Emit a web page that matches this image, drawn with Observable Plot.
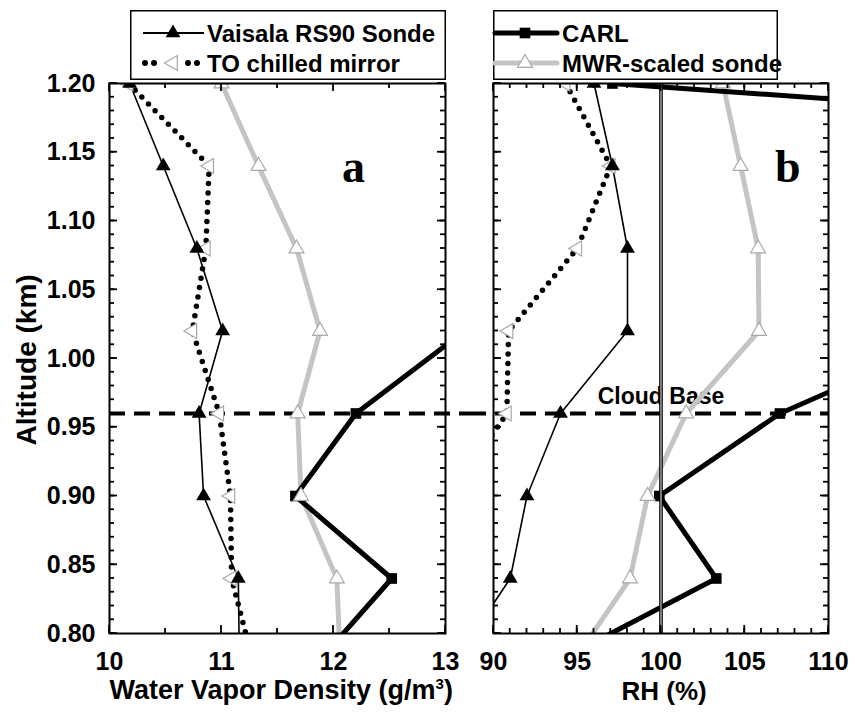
<!DOCTYPE html>
<html><head><meta charset="utf-8">
<script src="https://cdn.jsdelivr.net/npm/d3@7"></script>
<script src="https://cdn.jsdelivr.net/npm/@observablehq/plot@0.6"></script>
<style>
body{margin:0;background:#fff;}
#wrap{position:relative;width:855px;height:713px;font-family:"Liberation Sans",Arial,sans-serif;font-weight:bold;color:#000;overflow:hidden;}
#wrap svg{overflow:visible;}
.abs{position:absolute;white-space:nowrap;}
</style></head><body><div id="wrap"></div>
<script>
// ---- data ----
const altitude  = [1.20, 1.14, 1.08, 1.02, 0.96, 0.90, 0.84, 0.78];
// panel a: water vapor density (g/m3)
const vaisalaWV = [10.18, 10.48, 10.78, 11.01, 10.80, 10.84, 11.15, 11.16];
const toWV      = [10.17, 10.89, 10.86, 10.74, 10.98, 11.08, 11.09, 11.28];
const mwrWV     = [11.00, 11.33, 11.67, 11.88, 11.68, 11.71, 12.03, 12.06];
const carlWV    = [null, null, null, 13.17, 12.20, 11.66, 12.52, 11.87];
// panel b: relative humidity (%)
const vaisalaRH = [96.0, 97.1, 98.0, 98.0, 94.0, 92.0, 91.0, 87.7];
const toRH      = [94.3, 97.0, 95.0, 90.9, 90.8, 87.4, 86.0, 84.0];
const mwrRH     = [103.7, 104.75, 105.8, 105.85, 101.5, 99.2, 98.15, 94.8];
const carlRH    = [97.1, 167, 150, 118.3, 107.1, 99.9, 103.3, 93.85];
const cloudBase = 0.96;
const saturation = 100;
// ticks
const yMajor = [0.80, 0.85, 0.90, 0.95, 1.00, 1.05, 1.10, 1.15, 1.20];
const yMinor = d3.range(80, 121).map(d => d / 100);
const xMajorA = [10, 11, 12, 13];
const xMinorA = [10.5, 11.5, 12.5];
const xMajorB = [90, 95, 100, 105, 110];
const xMinorB = d3.range(90, 111);
const domainA = [10, 13], domainB = [90, 110], domainY = [0.80, 1.20];

const rows = vals => altitude.map((a, i) => ({alt: a, v: vals[i]})).filter(d => d.v != null);

const GRAY = "#c4c4c4";
const FONT = "Liberation Sans, Arial, sans-serif";
const H = 713, MT = 83, MB = 80;
const wrap = document.getElementById("wrap");

function place(svg, left) {
  svg.style.position = "absolute"; svg.style.left = left + "px"; svg.style.top = "0px";
  wrap.appendChild(svg);
  return svg;
}

function panel({left, width, ml, mr, domain, xMajor, xMinor, vaisala, to, mwr, carl, ylabels, extra, overlay, cbX1, cbX2}) {
  const marks = [];
  marks.push(Plot.ruleY([cloudBase], {x1: cbX1, x2: cbX2, stroke: "black", strokeWidth: 4, strokeDasharray: "16 9"}));
  if (extra) marks.push(...extra);
  marks.push(
    Plot.line(rows(to), {x: "v", y: "alt", stroke: "black", strokeWidth: 5.5, strokeDasharray: "0 9.5", strokeLinecap: "round", clip: true}),
    Plot.line(rows(vaisala), {x: "v", y: "alt", stroke: "black", strokeWidth: 1.6, clip: true}),
    Plot.line(rows(mwr), {x: "v", y: "alt", stroke: GRAY, strokeWidth: 5, clip: true}),
    Plot.line(rows(carl), {x: "v", y: "alt", stroke: "black", strokeWidth: 5, clip: true}),
    Plot.dot(rows(carl), {x: "v", y: "alt", symbol: "square", r: 6, fill: "black", clip: true}),
    Plot.dot(rows(mwr), {x: "v", y: "alt", symbol: "triangle", r: 5.5, fill: "white", stroke: "#a8a8a8", strokeWidth: 1.2, clip: true}),
    Plot.dot(rows(to), {x: "v", y: "alt", symbol: "triangle", rotate: -90, r: 5.5, fill: "white", stroke: "#a8a8a8", strokeWidth: 1.2, clip: true}),
    Plot.dot(rows(vaisala), {x: "v", y: "alt", symbol: "triangle", r: 5.5, fill: "black", clip: true})
  );
  marks.push(Plot.axisX(xMajor, {anchor: "bottom", tickSize: 0, tickPadding: 19, label: null, fontSize: 25}));
  if (ylabels) marks.push(Plot.axisY(yMajor, {anchor: "left", tickSize: 0, tickPadding: 14, label: null, fontSize: 25, tickFormat: d => d.toFixed(2)}));
  const base = {
    width, height: H, marginLeft: ml, marginRight: mr, marginTop: MT, marginBottom: MB,
    x: {domain, axis: null}, y: {domain: domainY, axis: null},
    style: {fontFamily: FONT, fontWeight: "bold", fontSize: "25px", color: "black", background: "transparent", overflow: "visible"}
  };
  place(Plot.plot({...base, marks}), left);
  const om = [...(overlay || [])];
  om.push(Plot.frame({stroke: "black", strokeWidth: 2}));
  const o = place(Plot.plot({...base, marks: om}), left);
  // inward ticks on all four sides, positioned through the plot's own scales
  const sx = o.scale("x"), sy = o.scale("y");
  const X0 = sx.apply(domain[0]), X1 = sx.apply(domain[1]);
  const Y0 = sy.apply(domainY[0]), Y1 = sy.apply(domainY[1]);
  const g = d3.select(o).append("g").attr("stroke", "#000").attr("stroke-width", 1.8);
  const seg = (x1, y1, x2, y2) => g.append("line").attr("x1", x1).attr("y1", y1).attr("x2", x2).attr("y2", y2);
  for (const [ticks, len] of [[xMajor, 8], [xMinor, 5]]) for (const t of ticks) {
    const px = sx.apply(t);
    seg(px, Y0, px, Y0 - len);
    seg(px, Y1, px, Y1 + len);
  }
  for (const [ticks, len] of [[yMajor, 8], [yMinor, 5]]) for (const t of ticks) {
    const py = sy.apply(t);
    seg(X0, py, X0 + len, py);
    seg(X1, py, X1 - len, py);
  }
}

// panel a: frame 109..445
const wA = 470, mlA = 109, mrA = 25;
panel({
  left: 0, width: wA, ml: mlA, mr: mrA, domain: domainA, xMajor: xMajorA, xMinor: xMinorA,
  vaisala: vaisalaWV, to: toWV, mwr: mwrWV, carl: carlWV, ylabels: true,
  cbX1: domainA[0], cbX2: domainA[1] + mrA * (domainA[1] - domainA[0]) / (wA - mlA - mrA)
});
// panel b: frame 493..828
const wB = 385, mlB = 23, mrB = 27;
panel({
  left: 470, width: wB, ml: mlB, mr: mrB, domain: domainB, xMajor: xMajorB, xMinor: xMinorB,
  vaisala: vaisalaRH, to: toRH, mwr: mwrRH, carl: carlRH, ylabels: false,
  cbX1: domainB[0] - mlB * (domainB[1] - domainB[0]) / (wB - mlB - mrB), cbX2: domainB[1],
  extra: [
    Plot.text(["Cloud Base"], {x: saturation, y: cloudBase, dy: -17, text: d => d, fontSize: 23, fontWeight: "bold", fill: "black"})
  ],
  overlay: [
    Plot.ruleX([saturation], {stroke: "black", strokeWidth: 3.6}),
    Plot.ruleX([saturation], {stroke: "#c8c8c8", strokeWidth: 1.2})
  ]
});

// axis titles
function addDiv(html, css) {
  const d = document.createElement("div");
  d.className = "abs"; d.innerHTML = html; Object.assign(d.style, css); wrap.appendChild(d); return d;
}
const tA = addDiv('Water Vapor Density (g/m<sup style="font-size:15px;vertical-align:10px;line-height:0">3</sup>)', {fontSize: "27px", top: "675px", left: "0px"});
tA.style.left = (281 - tA.offsetWidth / 2) + "px";
const tB = addDiv('RH (%)', {fontSize: "26px", top: "676px"});
tB.style.left = (664 - tB.offsetWidth / 2) + "px";
const tY = addDiv('Altitude (km)', {fontSize: "28px", left: "0px", top: "0px", transformOrigin: "0 0"});
const wY = tY.offsetWidth, hY = tY.offsetHeight;
tY.style.transform = `translate(${27 - hY / 2}px, ${360 + wY / 2}px) rotate(-90deg)`;
// panel letters
addDiv('a', {fontFamily: "Liberation Serif, Times New Roman, serif", fontSize: "46px", left: "342px", top: "140px"});
addDiv('b', {fontFamily: "Liberation Serif, Times New Roman, serif", fontSize: "46px", left: "775px", top: "140px"});

// legends
function legend(left, width, items) {
  const svg = d3.create("svg").attr("width", width).attr("height", 70)
    .style("position", "absolute").style("left", left + "px").style("top", "10px").style("overflow", "visible");
  svg.append("rect").attr("x", 0.75).attr("y", 0.75).attr("width", width - 1.5).attr("height", 68.5)
    .attr("fill", "white").attr("stroke", "black").attr("stroke-width", 1.5);
  items.forEach((it, i) => {
    const y = 23 + i * 30;
    const g = svg.append("g");
    it.draw(g, y);
    g.append("text").attr("x", it.tx).attr("y", y + 8.5).text(it.label)
      .attr("font-family", FONT).attr("font-weight", "bold").attr("font-size", 24).attr("fill", "black");
  });
  wrap.appendChild(svg.node());
}
const tri = d3.symbol(d3.symbolTriangle, Math.PI * 5.5 * 5.5)();
const sq = d3.symbol(d3.symbolSquare, Math.PI * 6 * 6)();
legend(130, 316, [
  {label: "Vaisala RS90 Sonde", tx: 77, draw: (g, y) => {
    g.append("line").attr("x1", 13).attr("x2", 74).attr("y1", y).attr("y2", y).attr("stroke", "black").attr("stroke-width", 1.8);
    g.append("path").attr("d", tri).attr("transform", `translate(43,${y})`).attr("fill", "black");
  }},
  {label: "TO chilled mirror", tx: 77, draw: (g, y) => {
    for (const x of [15, 24, 58, 67]) g.append("circle").attr("cx", x).attr("cy", y).attr("r", 3).attr("fill", "black");
    g.append("path").attr("d", tri).attr("transform", `translate(43,${y}) rotate(-90)`).attr("fill", "white").attr("stroke", "#a8a8a8").attr("stroke-width", 1.2);
  }}
]);
legend(493, 285, [
  {label: "CARL", tx: 69, draw: (g, y) => {
    g.append("line").attr("x1", 2).attr("x2", 64).attr("y1", y).attr("y2", y).attr("stroke", "black").attr("stroke-width", 5).attr("stroke-linecap", "round");
    g.append("path").attr("d", sq).attr("transform", `translate(32,${y})`).attr("fill", "black");
  }},
  {label: "MWR-scaled sonde", tx: 69, draw: (g, y) => {
    g.append("line").attr("x1", 2).attr("x2", 64).attr("y1", y).attr("y2", y).attr("stroke", GRAY).attr("stroke-width", 5).attr("stroke-linecap", "round");
    g.append("path").attr("d", tri).attr("transform", `translate(32,${y})`).attr("fill", "white").attr("stroke", "#a8a8a8").attr("stroke-width", 1.2);
  }}
]);
</script>
</body></html>
